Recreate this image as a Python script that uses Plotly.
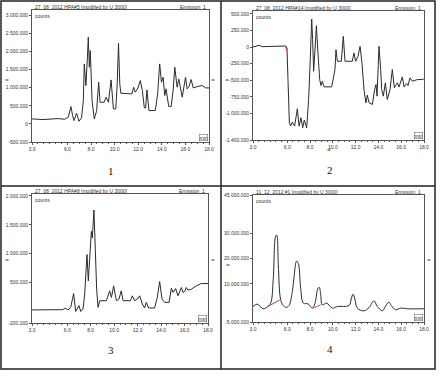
import plotly.graph_objects as go

W, H = 443, 386

# ---------------- data (retention time in min, signal in counts) ----------------
p1_t = [3.0, 3.94, 5.22, 5.78, 6.07, 6.30, 6.44, 6.55, 6.78, 6.98, 7.20, 7.35, 7.43, 7.57, 7.69, 7.77, 7.86, 7.94,
        8.09, 8.28, 8.48, 8.65, 8.77, 9.11, 9.28, 9.48, 9.70, 9.90, 10.10, 10.22, 10.33, 10.44, 10.53, 11.47, 11.61,
        11.75, 11.98, 12.18, 12.35, 12.52, 12.63, 12.74, 12.91, 13.45, 13.65, 13.82, 13.97, 14.11, 14.25, 14.36,
        14.59, 14.79, 14.96, 15.10, 15.30, 15.44, 15.73, 16.01, 16.15, 16.30, 16.49, 16.66, 17.01, 17.43, 17.72, 18.0]
p1_v = [138e3, 120e3, 147e3, 129e3, 184e3, 479e3, 230e3, 92e3, 295e3, 74e3, 166e3, 645e3, 1657e3, 1059e3, 1796e3,
        2394e3, 1565e3, 2026e3, 645e3, 138e3, 368e3, 1151e3, 598e3, 598e3, 737e3, 598e3, 1215e3, 414e3, 414e3,
        1105e3, 2228e3, 1105e3, 847e3, 829e3, 1013e3, 875e3, 994e3, 1197e3, 921e3, 442e3, 442e3, 939e3, 368e3,
        368e3, 829e3, 1657e3, 1151e3, 1289e3, 783e3, 967e3, 479e3, 479e3, 921e3, 1565e3, 1013e3, 1243e3, 737e3,
        1289e3, 967e3, 1031e3, 1225e3, 994e3, 1031e3, 1059e3, 994e3, 994e3]

p2_t = [3.0, 3.53, 3.82, 4.84, 5.87, 5.98, 6.10, 6.19, 6.30, 6.45, 6.65, 6.89, 7.04, 7.21, 7.36, 7.50, 7.71, 7.88,
        8.03, 8.15, 8.23, 8.32, 8.44, 8.56, 8.70, 8.85, 8.96, 9.08, 9.23, 9.90, 10.11, 10.19, 10.28, 10.40, 10.75,
        10.92, 11.07, 11.71, 11.86, 12.0, 12.21, 12.39, 12.56, 12.74, 12.91, 13.03, 13.18, 13.47, 13.67, 13.79,
        13.88, 14.05, 14.20, 14.29, 14.43, 14.61, 14.78, 15.02, 15.22, 15.40, 15.57, 15.66, 15.81, 16.10, 16.25,
        16.48, 16.60, 16.77, 16.98, 17.42, 17.85, 18.0]
p2_v = [0, 25e3, 5e3, 5e3, 15e3, -15e3, -790e3, -1140e3, -1190e3, -1130e3, -1190e3, -930e3, -1190e3, -1065e3,
        -1215e3, -1100e3, -1215e3, -790e3, -165e3, 420e3, 110e3, -365e3, -40e3, 320e3, -90e3, -490e3, -580e3,
        -515e3, -600e3, -600e3, -415e3, -340e3, -40e3, -215e3, -215e3, 160e3, -215e3, -215e3, -90e3, -215e3,
        -140e3, 10e3, -240e3, -650e3, -840e3, -725e3, -840e3, -865e3, -640e3, -565e3, -740e3, 10e3, -340e3,
        -640e3, -740e3, -540e3, -790e3, -640e3, -340e3, -615e3, -565e3, -540e3, -600e3, -450e3, -600e3, -550e3,
        -580e3, -465e3, -515e3, -490e3, -490e3, -480e3]
p2_base_t = [5.85, 5.92, 5.98]
p2_base_v = [10e3, -20e3, -60e3]

p3_t = [3.0, 4.51, 5.64, 5.81, 6.07, 6.30, 6.55, 6.72, 6.86, 7.01, 7.15, 7.35, 7.49, 7.69, 7.80, 8.06, 8.14, 8.28,
        8.40, 8.51, 8.63, 8.77, 9.34, 9.62, 9.77, 9.96, 10.19, 10.41, 10.61, 10.76, 11.38, 11.55, 11.75, 11.98,
        12.18, 12.40, 12.60, 12.74, 12.94, 13.45, 13.68, 13.88, 14.08, 14.31, 14.68, 14.88, 15.02, 15.24, 15.44,
        15.73, 15.87, 16.01, 16.15, 16.30, 16.58, 17.0, 17.43, 18.0]
p3_v = [26e3, 26e3, 31e3, 60e3, 26e3, 71e3, 311e3, 0, 60e3, 100e3, 0, 43e3, 300e3, 985e3, 529e3, 1386e3, 1271e3,
        1757e3, 1043e3, 386e3, 71e3, 186e3, 186e3, 357e3, 243e3, 443e3, 186e3, 214e3, 357e3, 186e3, 186e3, 271e3,
        186e3, 214e3, 271e3, 129e3, 60e3, 157e3, 60e3, 60e3, 243e3, 517e3, 214e3, 157e3, 157e3, 403e3, 329e3,
        397e3, 271e3, 414e3, 329e3, 346e3, 414e3, 369e3, 386e3, 443e3, 483e3, 483e3]

p4_t = [3.0, 3.38, 3.88, 4.26, 4.55, 4.78, 4.99, 5.08, 5.22, 5.43, 5.66, 5.87, 6.16, 6.45, 6.83, 6.98, 7.18, 7.42,
        7.82, 8.20, 8.44, 8.70, 8.82, 8.94, 9.08, 9.46, 9.96, 10.40, 11.42, 11.63, 11.77, 11.95, 12.15, 12.74,
        13.18, 13.61, 13.91, 14.35, 14.70, 14.93, 15.13, 15.51, 15.95, 16.54, 18.0]
p4_v = [1.11e6, 2.03e6, 0.20e6, 0.98e6, 2.42e6, 12.2e6, 28.9e6, 29.2e6, 17.5e6, 3.73e6, 1.5e6, 0.72e6, 1.5e6,
        7.0e6, 19.0e6, 18.1e6, 8.3e6, 2.42e6, 2.16e6, 0.46e6, 2.42e6, 8.3e6, 8.56e6, 5.7e6, 1.76e6, 2.42e6,
        0.46e6, 1.11e6, 1.5e6, 4.38e6, 5.95e6, 3.73e6, 0.46e6, -0.59e6, 0.72e6, 3.33e6, 1.11e6, -0.59e6, 1.76e6,
        2.81e6, 1.5e6, -0.2e6, 0.46e6, 0.2e6, 0.2e6]
p4_base1_t = [4.26, 5.37]
p4_base1_v = [0.98e6, 3.73e6]
p4_base2_t = [8.29, 8.94]
p4_base2_v = [0.46e6, 1.76e6]

x_tickvals = [3, 6, 8, 10, 12, 14, 16, 18]
x_ticktext = ["3.0", "6.0", "8.0", "10.0", "12.0", "14.0", "16.0", "18.0"]
x_minor = [3.5, 4, 4.5, 5, 5.5, 6.5, 7, 7.5, 8.5, 9, 9.5, 10.5, 11, 11.5, 12.5, 13, 13.5, 14.5, 15, 15.5,
           16.5, 17, 17.5]

p1_yvals = [-500e3, 0, 500e3, 1000e3, 1500e3, 2000e3, 2500e3, 3000e3]
p1_ytext = ["-500.000", "0", "500.000", "1.000.000", "1.500.000", "2.000.000", "2.500.000", "3.000.000"]
p2_yvals = [-1400e3, -1000e3, -750e3, -500e3, -250e3, 0, 250e3, 500e3]
p2_ytext = ["-1.400.000", "-1.000.000", "-750.000", "-500.000", "-250.000", "0", "250.000", "500.000"]
p3_yvals = [-200e3, 500e3, 1000e3, 1500e3, 2000e3]
p3_ytext = ["-200.000", "500.000", "1.000.000", "1.500.000", "2.000.000"]
p4_yvals = [-5e6, 10e6, 20e6, 30e6, 45e6]
p4_ytext = ["-5.000.000", "10.000.000", "20.000.000", "30.000.000", "45.000.000"]

titles = ["27_08_2012 HPA#5 [modified by U 3000]",
          "27_08_2012 HPA#14 [modified by U 3000]",
          "27_08_2012 HPA#8 [modified by U 3000]",
          "11_12_2012 #1 [modified by U 3000]"]
numbers = ["1", "2", "3", "4"]

# ---------------- layout helpers ----------------
def px(x):
    return x / W

def py(y):
    return 1 - y / H

panels = [
    dict(x0=32, x1=209, yt=10, yb=142, yr=[-500e3, 3146e3], yv=p1_yvals, ytx=p1_ytext, num=(111, 171)),
    dict(x0=253, x1=424, yt=11, yb=140, yr=[-1400e3, 542e3], yv=p2_yvals, ytx=p2_ytext, num=(330, 170)),
    dict(x0=32, x1=208, yt=194, yb=323, yr=[-200e3, 2034e3], yv=p3_yvals, ytx=p3_ytext, num=(111, 350)),
    dict(x0=253, x1=424, yt=195, yb=322, yr=[-5e6, 45e6], yv=p4_yvals, ytx=p4_ytext, num=(330, 349)),
]
series = [(p1_t, p1_v), (p2_t, p2_v), (p3_t, p3_v), (p4_t, p4_v)]

fig = go.Figure()
LINE = "#2b2b2b"
AX = "#555555"
FONT = "Liberation Sans"

for i, (p, (t, v)) in enumerate(zip(panels, series)):
    n = "" if i == 0 else str(i + 1)
    xa, ya = "x" + n, "y" + n
    fig.add_trace(go.Scatter(x=t, y=v, mode="lines", xaxis=xa, yaxis=ya,
                             line=dict(color=LINE, width=1,
                                       shape="spline" if i == 3 else "linear"),
                             hoverinfo="skip", showlegend=False))
    if i == 1:
        fig.add_trace(go.Scatter(x=p2_base_t, y=p2_base_v, mode="lines", xaxis=xa, yaxis=ya,
                                 line=dict(color="#d04040", width=1), showlegend=False))
    if i == 3:
        for bt, bv in [(p4_base1_t, p4_base1_v), (p4_base2_t, p4_base2_v)]:
            fig.add_trace(go.Scatter(x=bt, y=bv, mode="lines", xaxis=xa, yaxis=ya,
                                     line=dict(color="#d04040", width=1), showlegend=False))
    axcommon = dict(showline=True, linecolor=AX, linewidth=1, mirror=True, showgrid=False, zeroline=False,
                    ticks="outside", ticklen=2, tickwidth=1, tickcolor=AX, fixedrange=True,
                    tickfont=dict(size=5, color="#333", family=FONT), automargin=False)
    fig.layout["xaxis" + n] = dict(axcommon, domain=[px(p["x0"]), px(p["x1"])], range=[3, 18],
                                   anchor=ya, tickvals=x_tickvals, ticktext=x_ticktext,
                                   minor=dict(tickvals=x_minor, ticks="outside", ticklen=1, tickcolor=AX))
    fig.layout["yaxis" + n] = dict(axcommon, domain=[py(p["yb"]), py(p["yt"])], range=p["yr"],
                                   anchor=xa, tickvals=p["yv"], ticktext=p["ytx"])
    fig.add_annotation(x=px(p["x0"] + 1), y=py(p["yt"]), xref="paper", yref="paper", text=titles[i],
                       showarrow=False, xanchor="left", yanchor="bottom", yshift=-2,
                       font=dict(size=5, color="#333", family=FONT))
    fig.add_annotation(x=px(p["x1"] - 1), y=py(p["yt"]), xref="paper", yref="paper", text="Emission_1",
                       showarrow=False, xanchor="right", yanchor="bottom", yshift=-2,
                       font=dict(size=5, color="#333", family=FONT))
    fig.add_annotation(x=px(p["x0"] + 1), y=py(p["yt"] + 1), xref="paper", yref="paper", text="counts",
                       showarrow=False, xanchor="left", yanchor="top",
                       font=dict(size=5, color="#333", family=FONT))
    fig.add_annotation(x=px(p["x1"] - 1), y=py(p["yb"] - 1), xref="paper", yref="paper", text="min",
                       showarrow=False, xanchor="right", yanchor="bottom",
                       font=dict(size=5, color="#333", family=FONT),
                       bordercolor=AX, borderwidth=0.5, borderpad=0)
    fig.add_annotation(x=px(p["num"][0]), y=py(p["num"][1]), xref="paper", yref="paper", text=numbers[i],
                       showarrow=False, xanchor="center", yanchor="middle",
                       font=dict(size=11, color="#111", family="Liberation Serif"))

# table grid
shapes = [
    dict(type="rect", x0=px(1), x1=px(435), y0=py(369), y1=py(1)),
    dict(type="line", x0=px(221), x1=px(221), y0=py(369), y1=py(1)),
    dict(type="line", x0=px(1), x1=px(435), y0=py(186), y1=py(186)),
]
for s in shapes:
    s.update(xref="paper", yref="paper", line=dict(color="#222", width=1.5))

# small selection handles on the picture frames
handles = [(7, 80), (213, 80), (227, 80), (329, 150), (7, 260), (213, 260), (228, 265), (429, 260)]
for hx, hy in handles:
    shapes.append(dict(type="line", xref="paper", yref="paper", x0=px(hx - 1.5), x1=px(hx + 1.5),
                       y0=py(hy), y1=py(hy), line=dict(color="#333", width=1)))
fig.update_layout(shapes=shapes)

fig.update_layout(width=W, height=H, margin=dict(l=0, r=0, t=0, b=0),
                  paper_bgcolor="white", plot_bgcolor="white", showlegend=False)

fig.write_html("out.html", config={"displayModeBar": False},
               post_script="document.body.style.margin='0';document.body.style.overflow='hidden';")
